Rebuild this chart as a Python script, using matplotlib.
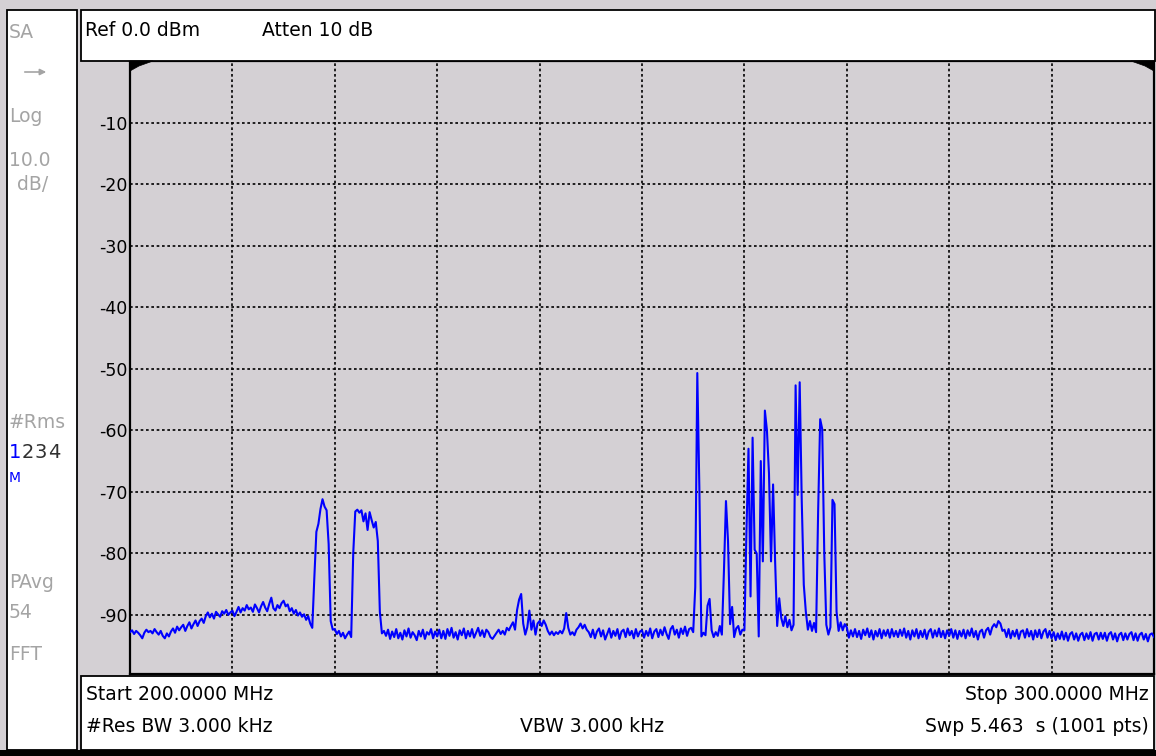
import numpy as np
import matplotlib
matplotlib.use("Agg")
import matplotlib.pyplot as plt
from matplotlib.patches import Rectangle, Polygon, FancyArrowPatch

W, H = 1156, 756

# ---------------- data ----------------
start_mhz = 200.0
stop_mhz = 300.0
level_ticks = [-10, -20, -30, -40, -50, -60, -70, -80, -90]
freq_grid = [210, 220, 230, 240, 250, 260, 270, 280, 290]

# trace level (dBm) on the sweep grid, 0.2 MHz per point (rows of 5 MHz)
trace_dbm = [
    -92.8, -92.5, -93.1, -92.6, -92.9, -93.3, -93.8, -92.9, -92.4, -92.8, -92.6, -93.0, -92.3, -92.8, -93.2, -92.6, -93.4, -93.8, -93.0, -93.5, -92.7, -92.2, -92.9, -91.9, -92.5,
    -92.0, -91.6, -92.6, -91.8, -91.2, -92.2, -91.5, -90.9, -91.8, -91.0, -90.6, -91.3, -90.2, -89.6, -90.4, -89.8, -90.6, -89.5, -89.9, -90.3, -89.4, -89.8, -89.2, -90.0, -89.6,
    -89.3, -90.2, -89.5, -88.7, -89.6, -88.9, -89.3, -88.4, -89.1, -88.8, -89.5, -88.3, -88.9, -89.6, -88.6, -87.9, -88.8, -89.4, -88.2, -87.2, -88.9, -89.3, -88.4, -88.9, -88.1,
    -87.7, -88.6, -88.3, -89.4, -88.9, -89.8, -89.2, -90.1, -89.6, -90.3, -89.9, -90.8, -90.2, -91.4, -92.1, -84.0, -76.5, -75.2, -72.8, -71.2, -72.4, -73.0, -78.5, -91.0, -92.4,
    -92.3, -93.1, -92.6, -93.5, -92.9, -93.8, -93.2, -92.7, -93.6, -80.0, -73.2, -72.9, -73.4, -73.0, -74.8, -73.5, -76.2, -73.3, -74.6, -75.8, -74.9, -78.0, -89.5, -93.0, -92.6,
    -93.4, -92.4, -93.9, -92.7, -93.6, -92.3, -93.8, -92.9, -94.0, -92.5, -93.5, -92.2, -93.7, -92.8, -93.3, -94.1, -92.6, -93.5, -92.4, -93.9, -92.8, -93.2, -92.3, -93.8, -92.7,
    -93.5, -92.4, -93.8, -92.6, -93.9, -92.3, -93.4, -92.1, -93.7, -92.8, -94.0, -92.5, -93.3, -92.2, -93.8, -92.6, -93.5, -92.3, -93.7, -92.9, -92.1, -93.4, -92.5, -93.6, -92.4,
    -92.8, -93.6, -93.9, -93.4, -92.9, -92.4, -93.1, -92.6, -93.2, -92.1, -92.5, -91.8, -91.2, -92.4, -89.2, -87.5, -86.6, -91.4, -93.2, -92.0, -89.3, -92.4, -90.9, -93.2, -91.4,
    -91.0, -91.8, -90.9, -91.6, -92.6, -93.2, -92.7, -93.3, -92.8, -93.1, -92.6, -93.0, -92.2, -89.7, -92.1, -93.2, -92.8, -93.3, -92.4, -92.0, -91.4, -92.2, -91.6, -92.4, -92.8,
    -93.6, -92.4, -93.8, -92.7, -92.2, -93.5, -92.5, -94.0, -93.1, -92.2, -93.7, -92.6, -93.4, -92.3, -93.9, -92.7, -92.4, -93.6, -92.2, -93.3, -92.6, -93.8, -92.3, -93.5, -92.7,
    -92.5, -93.7, -92.6, -93.4, -92.2, -93.8, -92.7, -92.3, -93.6, -92.4, -93.3, -92.0, -93.1, -93.9, -92.3, -91.8, -93.2, -92.4, -93.7, -92.2, -93.1, -91.9, -93.4, -92.3, -92.1,
    -92.8, -85.5, -50.7, -69.3, -93.5, -92.9, -93.3, -88.5, -87.4, -92.5, -93.6, -92.8, -93.4, -91.8, -93.2, -83.0, -71.5, -78.0, -91.5, -88.7, -93.6, -92.2, -91.8, -93.2, -92.4,
    -92.5, -76.5, -63.0, -87.0, -61.2, -79.4, -80.0, -93.5, -65.0, -81.3, -56.8, -60.0, -67.0, -81.3, -68.8, -81.3, -91.8, -87.3, -90.5, -91.8, -90.2, -92.0, -90.8, -92.5, -91.6,
    -52.7, -70.5, -52.2, -71.5, -85.1, -89.5, -92.4, -91.0, -92.6, -91.3, -92.8, -73.2, -58.2, -59.8, -80.0, -91.6, -93.2, -92.0, -71.3, -72.0, -89.5, -92.6, -91.2, -92.5, -91.5,
    -92.0, -93.7, -92.5, -93.5, -92.3, -93.6, -92.6, -93.9, -92.4, -93.3, -92.2, -93.6, -92.5, -94.0, -92.6, -93.5, -92.3, -93.8, -92.5, -93.4, -92.4, -93.7, -92.3, -93.5, -92.6,
    -93.6, -92.4, -93.4, -92.2, -93.7, -92.6, -94.0, -92.5, -93.5, -92.3, -93.8, -92.6, -93.6, -92.4, -93.9, -92.7, -92.3, -93.7, -92.5, -93.5, -92.2, -93.6, -92.6, -93.8, -92.5,
    -93.4, -92.3, -93.7, -92.5, -93.9, -92.6, -93.5, -92.4, -93.8, -92.5, -93.4, -92.2, -93.6, -92.6, -94.0, -92.7, -92.4, -93.7, -92.5, -92.1, -93.2, -92.0, -91.5, -92.0, -91.0,
    -91.4, -92.6, -92.4, -93.6, -92.3, -93.8, -92.6, -93.5, -92.4, -93.9, -92.7, -92.5, -93.7, -92.3, -93.5, -92.6, -94.0, -92.5, -93.6, -92.4, -93.8, -92.7, -92.3, -93.7, -92.6,
    -93.8, -92.8, -94.1, -93.0, -93.9, -92.7, -94.0, -92.9, -94.2, -93.1, -92.8, -94.0, -93.0, -94.2, -93.2, -92.9, -94.1, -93.0, -93.9, -92.8, -94.2, -93.1, -92.9, -94.0, -92.9,
    -93.9, -92.9, -94.2, -93.1, -92.8, -94.0, -93.0, -94.3, -93.2, -92.9, -94.1, -93.0, -94.0, -93.1, -92.8, -94.1, -93.0, -94.2, -93.2, -92.9, -94.0, -93.1, -94.3, -93.2, -93.0,
    -93.6,
]
assert len(trace_dbm) == 501, len(trace_dbm)

ref_text = "Ref 0.0 dBm"
atten_text = "Atten 10 dB"
start_text = "Start 200.0000 MHz"
stop_text = "Stop 300.0000 MHz"
rbw_text = "#Res BW 3.000 kHz"
vbw_text = "VBW 3.000 kHz"
swp_text = "Swp 5.463  s (1001 pts)"
trace_digits = ["1", "2", "3", "4"]

# ---------------- styling ----------------
GRAY_BG = "#d4d0d4"
LABEL_GRAY = "#a4a4a4"
BLUE = "#0000ff"
FONT = "DejaVu Sans"


def fx(x):
    return x / W


def fy(y):
    return 1 - y / H


fig = plt.figure(figsize=(W / 100, H / 100), dpi=100, facecolor=GRAY_BG)

# main plot
ax = fig.add_axes([fx(130), fy(674), (1154 - 130) / W, (674 - 61) / H])
ax.set_facecolor(GRAY_BG)
freq = np.linspace(start_mhz, stop_mhz, len(trace_dbm))
ax.plot(freq, trace_dbm, color=BLUE, lw=1.5, zorder=3)
ax.set_xlim(start_mhz, stop_mhz)
ax.set_ylim(-99.6, 0)
ax.set_xticks(freq_grid)
ax.set_yticks(level_ticks)
ax.set_yticklabels([str(v) for v in level_ticks], fontsize=12.5, family=FONT)
ax.tick_params(axis="x", length=0, labelbottom=False)
ax.tick_params(axis="y", length=0, pad=2, colors="black")
ax.grid(True, color="black", linestyle=(0, (1.6, 1.6)), linewidth=1.2, zorder=1)
ax.set_axisbelow(True)
for s in ax.spines.values():
    s.set_color("black")
    s.set_linewidth(1.6)


def add_rect(x0, y0, x1, y1, fc="white", ec="black", lw=1.3, z=2):
    r = Rectangle((fx(x0), fy(y1)), (x1 - x0) / W, (y1 - y0) / H,
                  transform=fig.transFigure, facecolor=fc, edgecolor=ec,
                  linewidth=lw, zorder=z)
    fig.add_artist(r)


# boxes
add_rect(7, 10, 77, 750)            # left panel
add_rect(81, 10, 1155, 61)          # top box
add_rect(81, 676, 1154, 750)        # bottom box
add_rect(0, 750, W, H, fc="black", ec="black", lw=0)

# corner wedges
for pts in ([(130, 61), (153, 61), (139, 66), (130, 71)],
            [(1154, 61), (1131, 61), (1145, 66), (1154, 71)]):
    fig.add_artist(Polygon([(fx(a), fy(b)) for a, b in pts], closed=True,
                           transform=fig.transFigure, facecolor="black",
                           edgecolor="black", lw=0.5, zorder=4))


def ftext(x, y, s, color="black", size=13.5, ha="left"):
    fig.text(fx(x), fy(y), s, color=color, fontsize=size, family=FONT,
             ha=ha, va="center", zorder=5)


# top box texts
ftext(85, 30, ref_text)
ftext(262, 30, atten_text)

# bottom box texts
ftext(86, 694, start_text)
ftext(1149, 694, stop_text, ha="right")
ftext(86, 727, rbw_text)
ftext(520, 727, vbw_text)
ftext(1149, 727, swp_text, ha="right")

# left panel texts
ftext(9, 32, "SA", color=LABEL_GRAY)
fig.add_artist(FancyArrowPatch((fx(22), fy(72)), (fx(49), fy(72)),
                               transform=fig.transFigure, arrowstyle="-|>",
                               mutation_scale=9, color=LABEL_GRAY, lw=1.2,
                               zorder=5))
ftext(9, 116, "Log", color=LABEL_GRAY)
ftext(9, 160, "10.0", color=LABEL_GRAY)
ftext(17, 184, "dB/", color=LABEL_GRAY)
ftext(9, 423, "#Rms", color=LABEL_GRAY)
for k, d in enumerate(trace_digits):
    ftext(9 + 13 * k, 453, d, color=BLUE if k == 0 else "#303030", size=14)
ftext(9, 478, "M", color=BLUE, size=10)
ftext(9, 583, "PAvg", color=LABEL_GRAY)
ftext(9, 613, "54", color=LABEL_GRAY)
ftext(9, 654, "FFT", color=LABEL_GRAY)

fig.savefig("out.png", dpi=100, facecolor=GRAY_BG)
